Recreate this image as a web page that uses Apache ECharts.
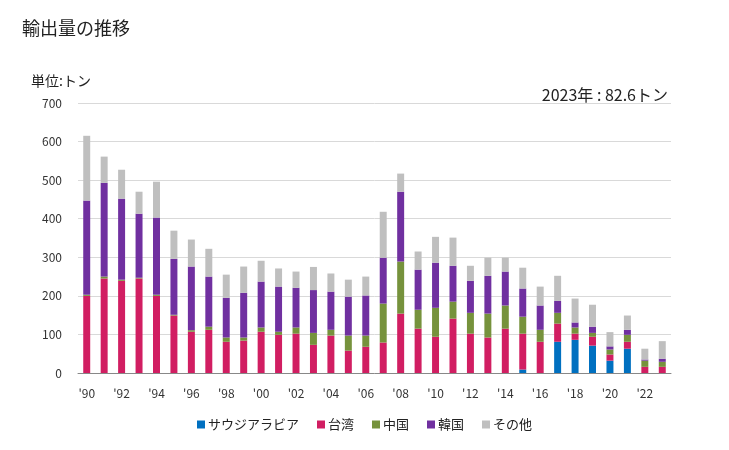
<!DOCTYPE html>
<html><head><meta charset="utf-8">
<script src="https://cdn.jsdelivr.net/npm/echarts@6/dist/echarts.min.js"></script>
<style>html,body{margin:0;padding:0;background:#fff}#c{width:729px;height:450px}</style>
</head><body><div id="c"></div>
<script>
const years = [1990,1991,1992,1993,1994,1995,1996,1997,1998,1999,2000,2001,2002,2003,2004,2005,2006,2007,2008,2009,2010,2011,2012,2013,2014,2015,2016,2017,2018,2019,2020,2021,2022,2023];
const saudi  = [0,0,0,0,0,0,0,0,0,0,0,0,0,0,0,0,0,0,0,0,0,0,0,0,0,9,0,81,86,71,32,63,0,0];
const taiwan = [200,245,239,245,200,149,107,112,81,84,107,99,102,73,97,58,68,79,154,115,94,141,102,92,115,93,81,47,16,23,16,18,16,16];
const china  = [3,5,3,2,3,2,4,8,11,8,11,8,16,31,15,39,29,101,135,49,75,44,54,62,60,44,31,28,16,10,13,18,16,13];
const korea  = [244,243,210,166,200,145,165,130,103,116,119,117,103,111,99,101,104,119,181,104,117,93,83,98,88,73,63,31,13,16,8,13,3,8];
const other  = [168,68,75,57,93,73,70,72,60,68,54,47,42,60,47,44,49,119,47,47,67,73,39,47,36,54,49,65,62,57,37,37,28,45.6];
const seriesNames = ['サウジアラビア','台湾','中国','韓国','その他'];
const seriesColors = ['#0070C0','#D11E62','#76923C','#7030A0','#BFBFBF'];
const seriesData = [saudi, taiwan, china, korea, other];
const yTicks = [0,100,200,300,400,500,600,700];

const chart = echarts.init(document.getElementById('c'));
const font = '"Noto Sans CJK JP","Noto Sans",sans-serif';
chart.setOption({
  animation:false,
  textStyle:{fontFamily:font},
  title:[
    {text:'輸出量の推移',left:17,top:14,textStyle:{fontSize:18,fontWeight:'normal',color:'#222',fontFamily:font}},
    {text:'単位:トン',left:26,top:69,textStyle:{fontSize:14,fontWeight:'normal',color:'#222',fontFamily:font}},
    {text:'2023年 : 82.6トン',right:56,top:82,textStyle:{fontSize:16,fontWeight:'normal',color:'#222',fontFamily:font}}
  ],
  legend:{
    data:seriesNames, bottom:14, left:'center', itemWidth:8, itemHeight:8, itemGap:18, icon:'rect',
    textStyle:{fontSize:13,color:'#222',fontFamily:font,padding:[0,0,0,-2]}
  },
  grid:{left:78,right:58,top:103,bottom:77},
  xAxis:{
    type:'category', data:years,
    axisTick:{show:false},
    axisLine:{lineStyle:{color:'#888'}},
    axisLabel:{color:'#333',fontSize:12,interval:0,margin:14,
      formatter:(v,i)=> (i%2===0) ? "'"+String(v).slice(2) : ''}
  },
  yAxis:{
    type:'value', min:0, max:700, interval:100,
    axisLabel:{color:'#333',fontSize:12,margin:16},
    splitLine:{lineStyle:{color:'#d9d9d9'}},
    axisLine:{show:false}, axisTick:{show:false}
  },
  series: seriesNames.map((n,i)=>({
    name:n, type:'bar', stack:'s', data:seriesData[i], barWidth:'40%',
    itemStyle:{color:seriesColors[i]}
  }))
});
</script></body></html>
